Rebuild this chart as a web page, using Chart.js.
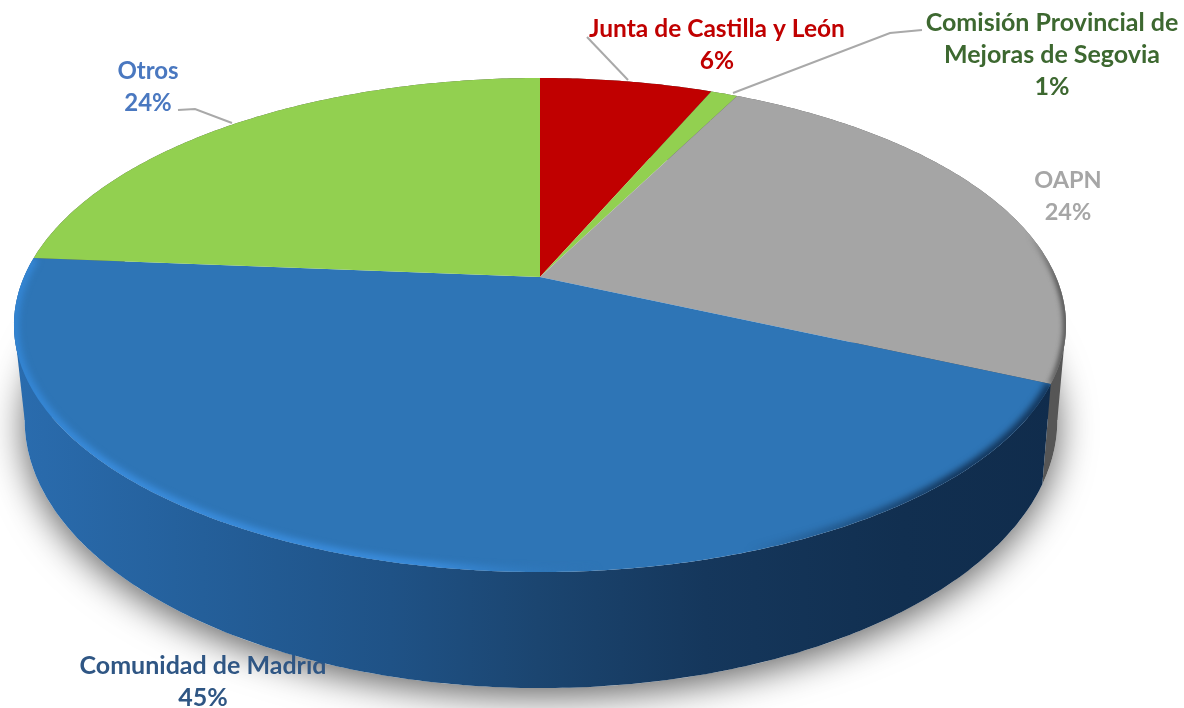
<!DOCTYPE html>
<html>
<head>
<meta charset="utf-8">
<title>Pie</title>
<script src="https://cdn.jsdelivr.net/npm/chart.js@4/dist/chart.umd.js"></script>
<style>
    html, body { margin: 0; padding: 0; background: #fff; }
    canvas { display: block; filter: blur(0.5px); }
</style>
</head>
<body>
<canvas id="pie" width="1184" height="708"></canvas>
<script>
// starting at 12 o'clock, clockwise
const categories = ['Junta de Castilla y León', 'Comisión Provincial de Mejoras de Segovia', 'OAPN', 'Comunidad de Madrid', 'Otros'];
const values = [6.4, 1, 24.4, 44.5, 23.7];
const sliceColors = ['#c00000', '#92d050', '#a5a5a5', '#2e75b6', '#92d050'];
const labelColors = ['#c00000', '#3d6830', '#a6a6a6', '#2f5684', '#4a78c0'];

// label text blocks: center x, first baseline y, font size, line split
const labelSpots = [
    { x: 717, y: 37, size: 24.5, lines: ['Junta de Castilla y León'] },
    { x: 1052, y: 31, size: 25, lines: ['Comisión Provincial de', 'Mejoras de Segovia'] },
    { x: 1068, y: 188, size: 23.5, lines: ['OAPN'] },
    { x: 203, y: 674, size: 25, lines: ['Comunidad de Madrid'] },
    { x: 148, y: 79, size: 24, lines: ['Otros'] }
];
const leaders = [
    [[587, 37], [628, 80]],
    [[733, 93], [890, 33], [922, 30]],
    [[178, 110], [195, 109], [232, 123]]
];

// top face: perspective circle, apex is not the ellipse center
const top3d = { x: 540, y: 277, a: 516, b: 237.7, k: 0.1943 };
// lower edge of the wall
const low3d = { x: 541, y: 368, a: 506.5, b: 257.9, k: 0.1943 };

function project(p, ang) {
    const u = Math.cos(ang), v = -Math.sin(ang);
    const d = 1 + p.k * v;
    return [p.x + p.a * u / d, p.y - p.b * v / d];
}

function trace(ctx, p, a0, a1, first) {
    const n = Math.max(2, Math.ceil(Math.abs(a1 - a0) * 90));
    for (let i = 0; i <= n; i++) {
        const q = project(p, a0 + (a1 - a0) * i / n);
        if (i === 0 && first) ctx.moveTo(q[0], q[1]);
        else ctx.lineTo(q[0], q[1]);
    }
}

function wallGradient(ctx, stops) {
    const g = ctx.createLinearGradient(15, 0, 1060, 0);
    stops.forEach(s => g.addColorStop(s[0], s[1]));
    return g;
}

function drawLabels(ctx) {
    ctx.textAlign = 'center';
    ctx.textBaseline = 'alphabetic';
    labelSpots.forEach((s, i) => {
        ctx.font = 'bold ' + s.size + 'px Lato';
        ctx.fillStyle = labelColors[i];
        const rows = s.lines.concat(Math.round(values[i]) + '%');
        rows.forEach((t, r) => ctx.fillText(t, s.x, s.y + r * 32));
    });
    ctx.strokeStyle = '#a9a9a9';
    ctx.lineWidth = 2;
    leaders.forEach(l => {
        ctx.beginPath();
        l.forEach((q, i) => i ? ctx.lineTo(q[0], q[1]) : ctx.moveTo(q[0], q[1]));
        ctx.stroke();
    });
}

// straight side of the body, from the rim's widest point to the lower edge's widest point
function sidePatch(ctx, ang, fill) {
    const a = project(top3d, ang), b = project(low3d, ang);
    ctx.beginPath();
    ctx.moveTo(a[0], a[1]);
    ctx.lineTo(b[0], b[1]);
    ctx.lineTo(low3d.x, low3d.y);
    ctx.closePath();
    ctx.fillStyle = fill;
    ctx.fill();
}

function rimStroke(ctx, el, width, blur, style) {
    ctx.save();
    ctx.beginPath();
    ctx.moveTo(top3d.x, top3d.y);
    trace(ctx, top3d, el.startAngle, el.endAngle, false);
    ctx.closePath();
    ctx.clip();
    ctx.filter = 'blur(' + blur + 'px)';
    ctx.lineWidth = width;
    ctx.strokeStyle = style;
    ctx.beginPath();
    trace(ctx, top3d, el.startAngle, el.endAngle, true);
    ctx.stroke();
    ctx.restore();
}

const pie3d = {
    id: 'pie3d',
    beforeDatasetDraw() {
        return false; // flat arcs replaced below
    },
    afterDatasetsDraw(chart) {
        const ctx = chart.ctx;
        const arcs = chart.getDatasetMeta(0).data;
        const wide = Math.asin(top3d.k);
        const blueWall = wallGradient(ctx, [[0, '#2a6cae'], [0.18, '#245f9a'], [0.36, '#1f5286'], [0.5, '#1b4570'], [0.66, '#15375c'], [0.85, '#112f50'], [1, '#102c4c']]);

        // soft shadow under the body
        ctx.save();
        ctx.shadowColor = 'rgba(0,0,0,0.62)';
        ctx.shadowBlur = 36;
        ctx.shadowOffsetY = 8;
        ctx.fillStyle = '#fff';
        ctx.beginPath();
        trace(ctx, low3d, 0, Math.PI * 2, true);
        ctx.closePath();
        ctx.fill();
        ctx.restore();

        drawLabels(ctx);

        // walls
        sidePatch(ctx, wide, '#565656');
        sidePatch(ctx, Math.PI - wide, blueWall);
        arcs.forEach((el, i) => {
            ctx.beginPath();
            trace(ctx, top3d, el.startAngle, el.endAngle, true);
            trace(ctx, low3d, el.endAngle, el.startAngle, false);
            ctx.closePath();
            ctx.fillStyle = i === 3 ? blueWall : '#565656';
            ctx.fill();
        });

        // top face
        arcs.forEach(el => {
            ctx.beginPath();
            ctx.moveTo(top3d.x, top3d.y);
            trace(ctx, top3d, el.startAngle, el.endAngle, false);
            ctx.closePath();
            ctx.fillStyle = el.options.backgroundColor;
            ctx.fill();
        });

        // bevel along the rim
        rimStroke(ctx, arcs[3], 10, 3, wallGradient(ctx, [[0, 'rgba(52,135,215,0.9)'], [0.08, 'rgba(58,140,220,1)'], [0.4, 'rgba(58,140,220,1)'], [0.56, 'rgba(46,117,182,0)'], [0.7, 'rgba(16,46,80,0)'], [0.9, 'rgba(16,46,80,0.9)'], [1, 'rgba(16,46,80,0.9)']]));
        rimStroke(ctx, arcs[2], 6, 2.5, wallGradient(ctx, [[0.97, 'rgba(70,70,70,0)'], [1, 'rgba(70,70,70,0.9)']]));
    }
};

new Chart(document.getElementById('pie').getContext('2d'), {
    type: 'pie',
    data: {
        labels: categories,
        datasets: [{ data: values, backgroundColor: sliceColors, borderWidth: 0 }]
    },
    options: {
        responsive: false,
        animation: false,
        devicePixelRatio: 1,
        plugins: { legend: { display: false }, tooltip: { enabled: false } }
    },
    plugins: [pie3d]
});
</script>
</body>
</html>
